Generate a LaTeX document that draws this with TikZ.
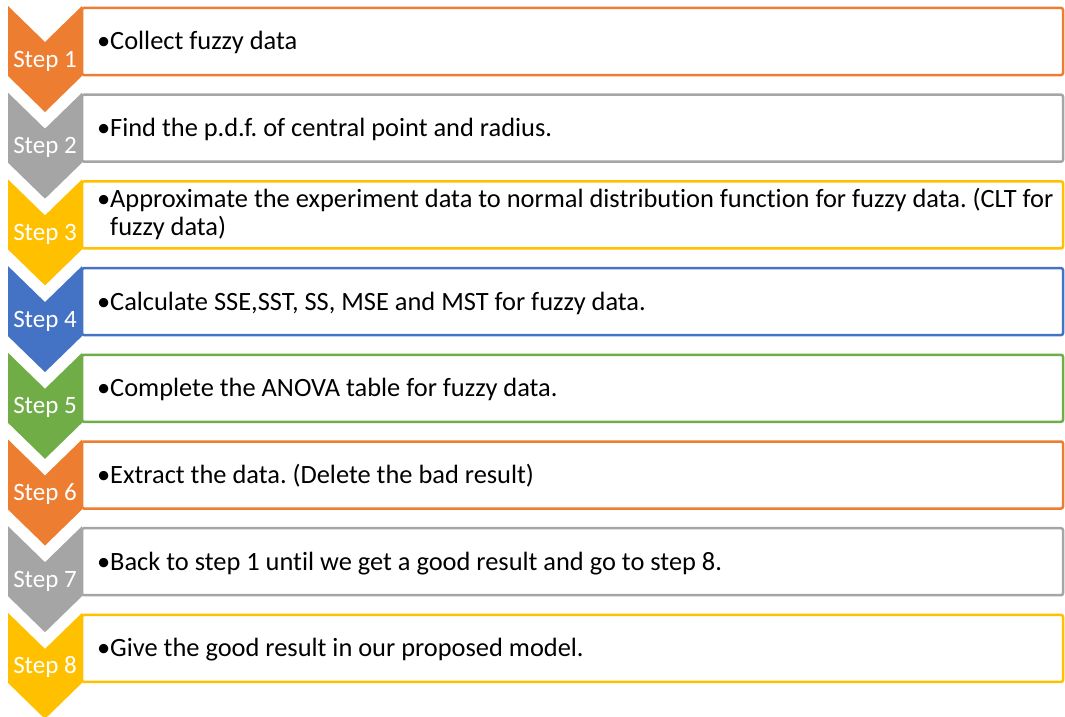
\documentclass[tikz,border=0pt]{standalone}
\usepackage{fontspec}
\setmainfont{Carlito}[Ligatures=NoCommon]
\usepackage{tikz}
\usetikzlibrary{calc}
\frenchspacing

\definecolor{stepOrange}{HTML}{ED7D31}
\definecolor{stepGray}{HTML}{A5A5A5}
\definecolor{stepGold}{HTML}{FFC000}
\definecolor{stepBlue}{HTML}{4472C4}
\definecolor{stepGreen}{HTML}{70AD47}

\begin{document}
\begin{tikzpicture}[x=1pt, y=-1pt,
  stepbox/.style={line width=2.5pt, rounded corners=2pt},
  steplabel/.style={text=white, font=\fontsize{25}{30}\selectfont, inner sep=0pt, anchor=base},
  steptext/.style={font=\fontsize{26.4}{28}\selectfont, inner sep=0pt, anchor=base west, align=left}]
\clip (0,0) rectangle (1065,717);
% boxes and chevrons
\foreach \i/\c in {1/stepOrange,2/stepGray,3/stepGold,4/stepBlue,5/stepGreen,6/stepOrange,7/stepGray,8/stepGold}{
  \pgfmathsetmacro{\ytop}{6+86.7*(\i-1)}
  \draw[stepbox, draw=\c] (82,\ytop+2) rectangle (1063,\ytop+69);
  \fill[\c] (8,\ytop) -- (45,\ytop+36) -- (82,\ytop) -- (82,\ytop+70)
    -- (45,\ytop+106) -- (8,\ytop+70) -- cycle;
  \node[steplabel] (step\i) at (45,\ytop+61) {Step \i};
}
% step texts (base = last line)
\node[steptext] (text1) at (110,50) {\llap{•}Collect fuzzy data};
\node[steptext] (text2) at (110,136.7) {\llap{•}Find the p.d.f. of central point and radius.};
\node[steptext] (text3) at (110,235.4) {\llap{•}Approximate the experiment data to normal distribution function for fuzzy data. (CLT for\\fuzzy data)};
\node[steptext] (text4) at (110,310.1) {\llap{•}Calculate SSE,SST, SS, MSE and MST for fuzzy data.};
\node[steptext] (text5) at (110,396.8) {\llap{•}Complete the ANOVA table for fuzzy data.};
\node[steptext] (text6) at (110,483.5) {\llap{•}Extract the data. (Delete the bad result)};
\node[steptext] (text7) at (110,570.2) {\llap{•}Back to step 1 until we get a good result and go to step 8.};
\node[steptext] (text8) at (110,656.9) {\llap{•}Give the good result in our proposed model.};
\end{tikzpicture}
\end{document}
